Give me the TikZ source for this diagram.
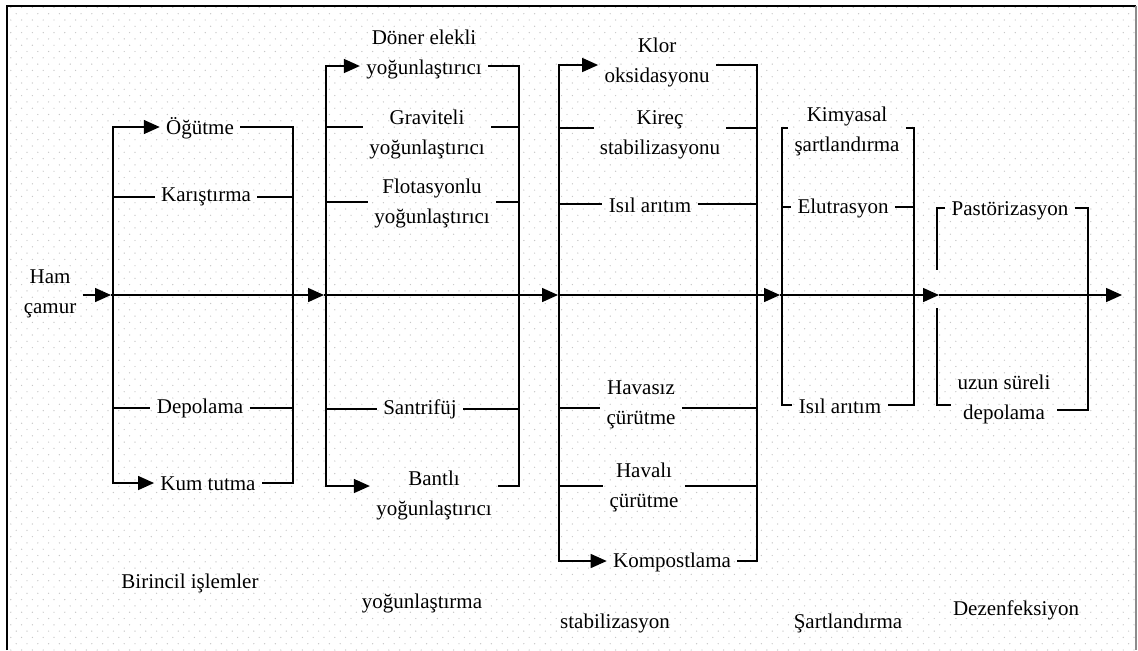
\documentclass[tikz,border=0pt]{standalone}
\usepackage{fontspec}
\setmainfont{Liberation Serif}
\usepackage{tikz}
\usetikzlibrary{arrows.meta,patterns}
\pgfdeclarepatternformonly{bgdots}{\pgfqpoint{-0.5pt}{-0.5pt}}{\pgfqpoint{4.9pt}{5.8pt}}{\pgfqpoint{5.4pt}{6.3pt}}{%
  \pgfpathcircle{\pgfqpoint{0pt}{0pt}}{0.35pt}%
  \pgfpathcircle{\pgfqpoint{2.7pt}{3.15pt}}{0.35pt}%
  \pgfusepath{fill}}
\tikzstyle{lbl} = [font={\fontsize{10.5}{15}\selectfont}, align=center, inner sep=3pt]
\tikzstyle{bus} = [line width=0.75pt]
\tikzstyle{flow} = [bus, -{Triangle[length=8pt,width=7pt]}]
\tikzstyle{twoway} = [bus, {Triangle[length=8pt,width=7pt]}-{Triangle[length=8pt,width=7pt]}]

\begin{document}
\begin{tikzpicture}[x=0.5pt,y=-0.5pt]
    \useasboundingbox (0,0) rectangle (1138,650);
    \fill[pattern=bgdots, pattern color=black!22] (8,7) rectangle (1135,650);
    \draw[line width=1pt] (7,650) -- (7,6) -- (1136,6);
    \draw[black!45, line width=1pt] (1136,6) -- (1136,650);

    \node[lbl](ham) at (50,294){Ham\\çamur};
    % Birincil islemler
    \node[lbl](ogut) at (200,128){Öğütme};
    \node[lbl](karis) at (206,197){Karıştırma};
    \node[lbl](depo) at (200,408){Depolama};
    \node[lbl](kum) at (208,484){Kum tutma};
    \node[lbl](birincil) at (190,583){Birincil işlemler};
    \coordinate(a1) at (113,127); \coordinate(a2) at (113,197);
    \coordinate(a3) at (113,408); \coordinate(a4) at (113,483);
    \coordinate(z1) at (293,127); \coordinate(z4) at (293,483);
    \draw[twoway](ogut.west |- a1) -- (a1) -- (a4) -- (kum.west |- a4);
    \draw[bus](ogut.east |- z1) -- (z1) -- (z4) -- (kum.east |- z4);
    \draw[bus](a2) -- (karis.west |- a2);
    \draw[bus](karis.east |- a2) -- (a2 -| z1);
    \draw[bus](a3) -- (depo.west |- a3);
    \draw[bus](depo.east |- a3) -- (a3 -| z1);
    % yogunlastirma
    \node[lbl](doner) at (424,54){Döner elekli\\yoğunlaştırıcı};
    \node[lbl](grav) at (427,134){Graviteli\\yoğunlaştırıcı};
    \node[lbl](flot) at (432,203){Flotasyonlu\\yoğunlaştırıcı};
    \node[lbl](santri) at (420,409){Santrifüj};
    \node[lbl](bant) at (434,495){Bantlı\\yoğunlaştırıcı};
    \node[lbl](yogun) at (422,603){yoğunlaştırma};
    \coordinate(b1) at (326,66); \coordinate(b2) at (326,127);
    \coordinate(b3) at (326,202); \coordinate(b4) at (326,409);
    \coordinate(b5) at (326,486);
    \coordinate(y1) at (519,66); \coordinate(y5) at (519,486);
    \draw[twoway](doner.west |- b1) -- (b1) -- (b5) -- (bant.west |- b5);
    \draw[bus](doner.east |- y1) -- (y1) -- (y5) -- (bant.east |- y5);
    \draw[bus](b2) -- (grav.west |- b2);
    \draw[bus](grav.east |- b2) -- (b2 -| y1);
    \draw[bus](b3) -- (flot.west |- b3);
    \draw[bus](flot.east |- b3) -- (b3 -| y1);
    \draw[bus](b4) -- (santri.west |- b4);
    \draw[bus](santri.east |- b4) -- (b4 -| y1);
    % stabilizasyon
    \node[lbl](klor) at (657,62){Klor\\oksidasyonu};
    \node[lbl](kirec) at (660,135){Kireç\\stabilizasyonu};
    \node[lbl](isil) at (650,205){Isıl arıtım};
    \node[lbl](havasiz) at (641,405){Havasız\\çürütme};
    \node[lbl](havali) at (644,487){Havalı\\çürütme};
    \node[lbl](kompost) at (672,562){Kompostlama};
    \node[lbl](stab) at (615,623){stabilizasyon};
    \coordinate(c1) at (559,65); \coordinate(c2) at (559,128);
    \coordinate(c3) at (559,204); \coordinate(c4) at (559,408);
    \coordinate(c5) at (559,486); \coordinate(c6) at (559,561);
    \coordinate(x1) at (757,65); \coordinate(x6) at (757,561);
    \draw[twoway](klor.west |- c1) -- (c1) -- (c6) -- (kompost.west |- c6);
    \draw[bus](klor.east |- x1) -- (x1) -- (x6) -- (kompost.east |- x6);
    \draw[bus](c2) -- (kirec.west |- c2);
    \draw[bus](kirec.east |- c2) -- (c2 -| x1);
    \draw[bus](c3) -- (isil.west |- c3);
    \draw[bus](isil.east |- c3) -- (c3 -| x1);
    \draw[bus](c4) -- (havasiz.west |- c4);
    \draw[bus](havasiz.east |- c4) -- (c4 -| x1);
    \draw[bus](c5) -- (havali.west |- c5);
    \draw[bus](havali.east |- c5) -- (c5 -| x1);
    % sartlandirma
    \node[lbl](kimya) at (847,131){Kimyasal\\şartlandırma};
    \node[lbl](elut) at (843,208){Elutrasyon};
    \node[lbl](isil2) at (840,406){Isıl arıtım};
    \node[lbl](sart) at (848,623){Şartlandırma};
    \coordinate(d1) at (782,128); \coordinate(d2) at (782,207);
    \coordinate(d3) at (782,405);
    \coordinate(w1) at (914,128); \coordinate(w3) at (914,405);
    \draw[bus](kimya.west |- d1) -- (d1) -- (d3) -- (isil2.west |- d3);
    \draw[bus](kimya.east |- w1) -- (w1) -- (w3) -- (isil2.east |- w3);
    \draw[bus](d2) -- (elut.west |- d2);
    \draw[bus](elut.east |- d2) -- (d2 -| w1);
    % dezenfeksiyon
    \node[lbl](past) at (1010,211){Pastörizasyon};
    \node[lbl](uzun) at (1004,399){uzun süreli\\depolama};
    \node[lbl](dezen) at (1016,610){Dezenfeksiyon};
    \coordinate(e1) at (937,208); \coordinate(e2) at (937,405);
    \coordinate(eg1) at (937,270); \coordinate(eg2) at (937,308);
    \coordinate(v1) at (1088,208); \coordinate(v2) at (1088,410);
    \draw[bus](past.west |- e1) -- (e1) -- (eg1);
    \draw[bus](eg2) -- (e2) -- (uzun.west |- e2);
    \draw[bus](past.east |- v1) -- (v1) -- (v2) -- (uzun.east |- v2);
    % ana hat
    \coordinate(m1) at (111,295); \coordinate(m2) at (324,295);
    \coordinate(m3) at (558,295); \coordinate(m4) at (780,295);
    \coordinate(m5) at (939,295); \coordinate(m6) at (1122,295);
    \draw[flow](ham.east |- m1) -- (m1);
    \draw[flow](m1) -- (m2);
    \draw[flow](m2) -- (m3);
    \draw[flow](m3) -- (m4);
    \draw[flow](m4) -- (m5);
    \draw[flow](m5) -- (m6);
\end{tikzpicture}
\end{document}
